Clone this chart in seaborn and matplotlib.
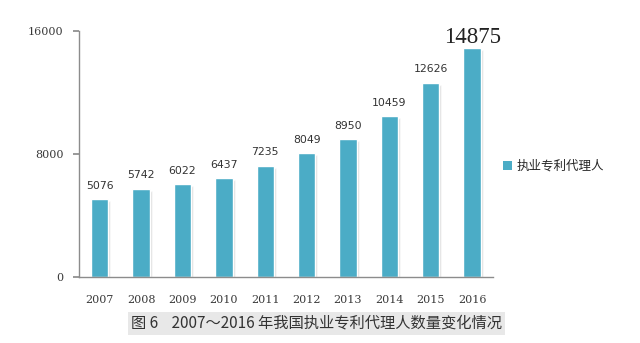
import matplotlib
matplotlib.use("Agg")
import matplotlib.pyplot as plt
import seaborn as sns
import pandas as pd
from matplotlib.patches import Patch

years = ["2007", "2008", "2009", "2010", "2011", "2012", "2013", "2014", "2015", "2016"]
agents = [5076, 5742, 6022, 6437, 7235, 8049, 8950, 10459, 12626, 14875]
yticks = [0, 8000, 16000]
series_name = "执业专利代理人"
caption = "图 6    2007～2016 年我国执业专利代理人数量变化情况"

sns.set_theme(style="white")
plt.rcParams['font.family'] = ['Noto Sans CJK SC', 'DejaVu Sans']

df = pd.DataFrame({"year": years, "value": agents})
color = "#4BACC6"

fig = plt.figure(figsize=(6.4, 3.43), dpi=100)
ax = fig.add_axes([0.1234, 0.1924, 0.6466, 0.7172])

# shadow bars
sns.barplot(data=df, x="year", y="value", color="#c4c4c4", width=0.42,
            ax=ax, saturation=1)
for p in ax.patches:
    p.set_x(p.get_x() + 0.05)
    p.set_height(p.get_height() - 120)
    p.set_alpha(0.55)
sns.barplot(data=df, x="year", y="value", color=color, width=0.42, ax=ax, saturation=1)

tick_font = dict(fontsize=8, color="#3a3a3a", family=["DejaVu Serif"])
ax.set_xlim(-0.5, 9.5)
ax.set_ylim(0, 16000)
ax.set_yticks(yticks)
ax.set_yticklabels([str(v) for v in yticks], **tick_font)
ax.set_xticks(range(len(years)))
ax.set_xticklabels(years, **tick_font)
ax.set_xlabel("")
ax.set_ylabel("")
for s in ["top", "right"]:
    ax.spines[s].set_visible(False)
for s in ["left", "bottom"]:
    ax.spines[s].set_color("#8c8c8c")
    ax.spines[s].set_linewidth(1.0)
ax.tick_params(axis="y", left=True, length=4, color="#8c8c8c", pad=7)
ax.tick_params(axis="x", bottom=False, pad=7)

for i, v in enumerate(agents):
    if i == len(agents) - 1:
        ax.text(i, v + 20, str(v), ha="center", va="bottom", fontsize=16.5,
                color="#222222", family=["Liberation Serif", "DejaVu Serif"])
    else:
        ax.text(i, v + 550, str(v), ha="center", va="bottom", fontsize=7.8,
                color="#333333", family=["DejaVu Sans"])

handle = Patch(facecolor=color, edgecolor="none")
fig.legend([handle], [series_name], loc="center left", bbox_to_anchor=(0.768, 0.515),
           frameon=False, fontsize=9, handlelength=0.7, handleheight=0.7,
           handletextpad=0.4)

fig.text(0.495, 0.058, caption, ha="center", va="center", fontsize=11, color="#333333",
         bbox=dict(boxstyle="square,pad=0.2", facecolor="#e8e8e8", edgecolor="none"))

fig.savefig("out.png", dpi=100)
